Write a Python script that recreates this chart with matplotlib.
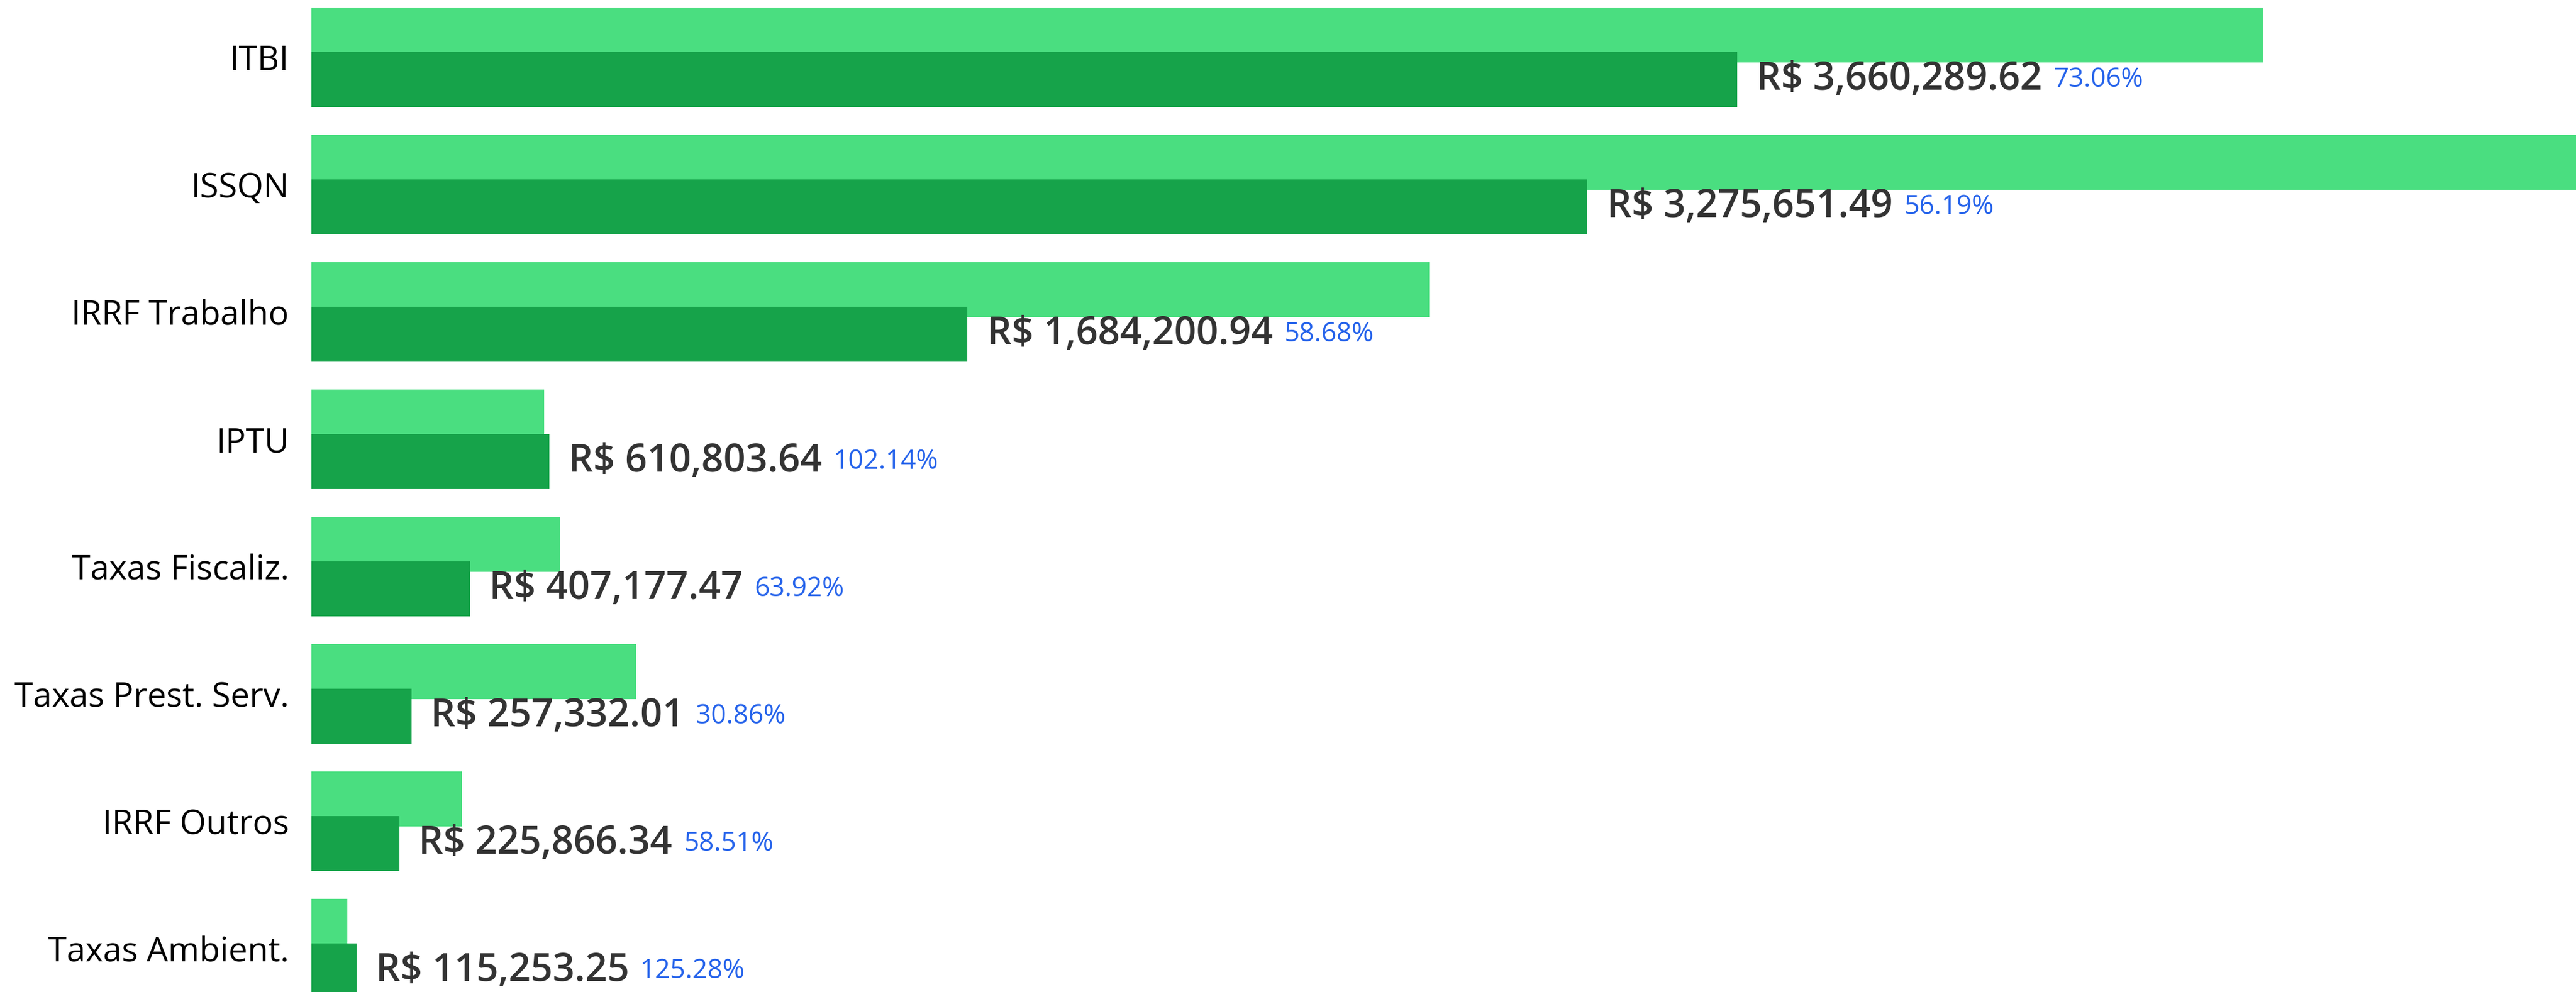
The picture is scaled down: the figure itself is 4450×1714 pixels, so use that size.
import matplotlib
matplotlib.use("Agg")
import matplotlib.pyplot as plt
import numpy as np

categorias = ["ITBI", "ISSQN", "IRRF Trabalho", "IPTU", "Taxas Fiscaliz.",
              "Taxas Prest. Serv.", "IRRF Outros", "Taxas Ambient."]
realizado = [3660289.62, 3275651.49, 1684200.94, 610803.64,
             407177.47, 257332.01, 225866.34, 115253.25]
previsto = [5010000, 5830000, 2870000, 598000, 637000, 834000, 386000, 92000]
percentual = ["73.06%", "56.19%", "58.68%", "102.14%",
              "63.92%", "30.86%", "58.51%", "125.28%"]

plt.rcParams['font.family'] = ['Open Sans', 'DejaVu Sans']

fig = plt.figure(figsize=(22.25, 8.57), dpi=200)
ax = fig.add_axes([538 / 4450, 0, 1 - 538 / 4450, 1])

y = np.arange(len(categorias))
ax.barh(y - 0.175, previsto, height=0.43, color="#4ade80")
ax.barh(y + 0.175, realizado, height=0.43, color="#16a34a")

for i, v in enumerate(realizado):
    txt = ax.annotate("R$ {:,.2f}".format(v), xy=(v, i + 0.175),
                      xytext=(12, 0), textcoords="offset points",
                      va="center", ha="left", fontsize=24,
                      fontweight="semibold", color="#333333")
    ax.annotate(percentual[i], xy=(1, 0.5), xycoords=txt,
                xytext=(7, 0), textcoords="offset points",
                va="center", ha="left", fontsize=16.5,
                fontweight="medium", color="#2563eb")

ax.set_yticks(y)
ax.set_yticklabels(categorias, fontsize=21, color="black")
ax.tick_params(axis="y", length=0, pad=14)
ax.set_xticks([])
ax.set_xlim(0, 5813600)
ax.set_ylim(7.34, -0.45)
for s in ax.spines.values():
    s.set_visible(False)

fig.savefig("out.png", dpi=200)
